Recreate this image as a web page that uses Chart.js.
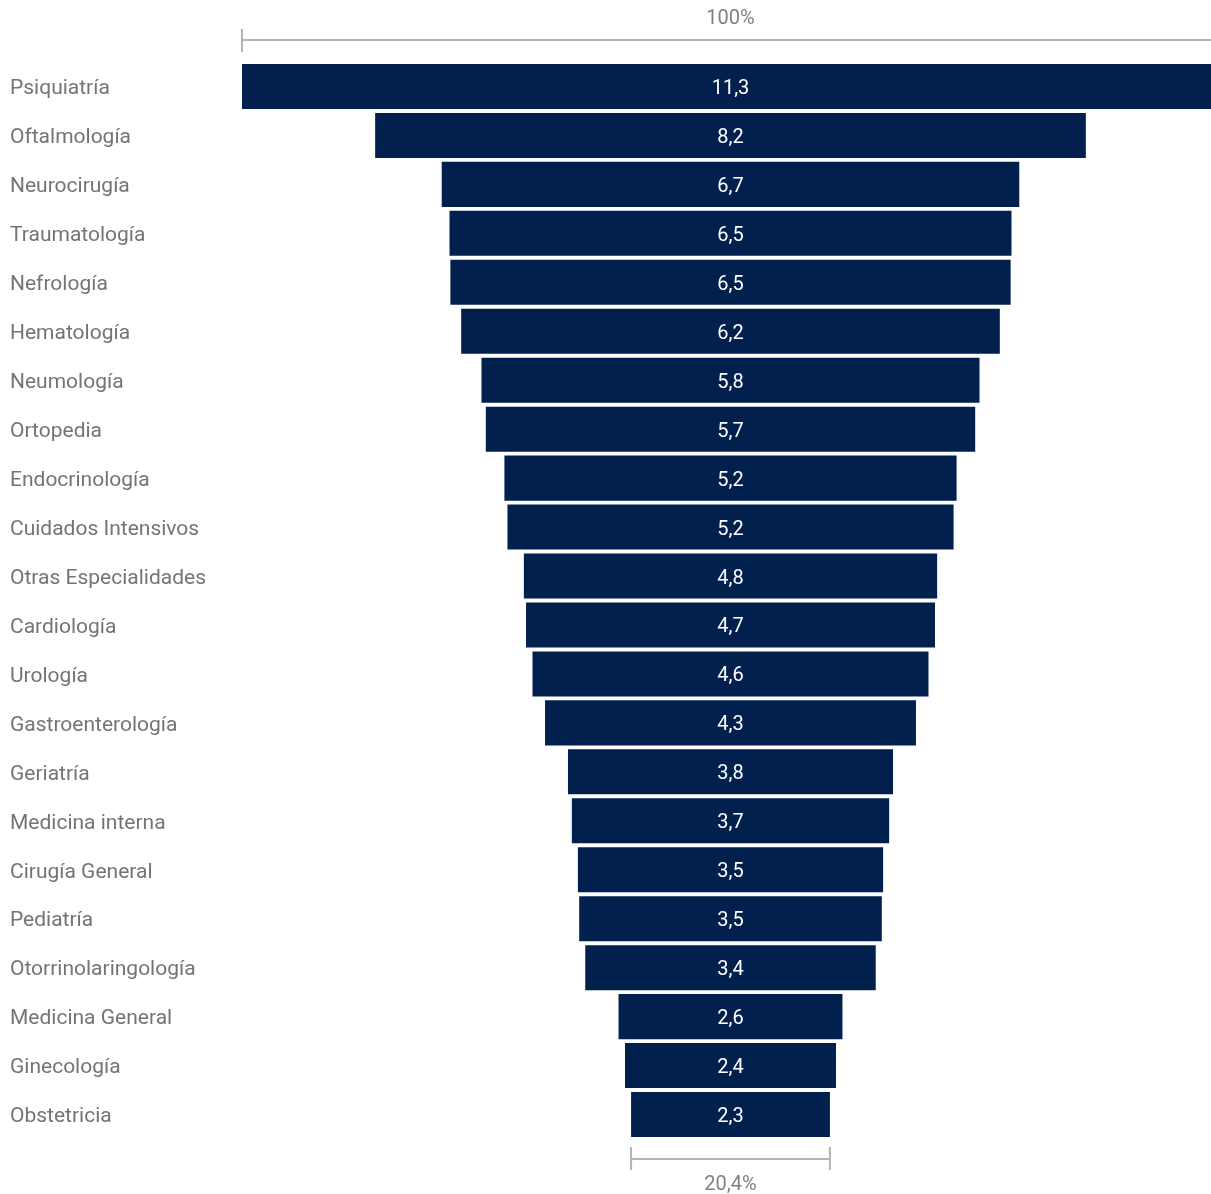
<!DOCTYPE html>
<html>
<head>
<meta charset="utf-8">
<script src="https://cdn.jsdelivr.net/npm/chart.js@4/dist/chart.umd.min.js"></script>
<style>
  html, body { margin: 0; padding: 0; background: #fff; overflow: hidden; }
</style>
</head>
<body>
<canvas id="mycanvas" width="1219" height="1194"></canvas>
<script>
// especialidades (categorias) y valores del embudo
var especialidades = ['Psiquiatría', 'Oftalmología', 'Neurocirugía', 'Traumatología', 'Nefrología',
  'Hematología', 'Neumología', 'Ortopedia', 'Endocrinología', 'Cuidados Intensivos',
  'Otras Especialidades', 'Cardiología', 'Urología', 'Gastroenterología', 'Geriatría',
  'Medicina interna', 'Cirugía General', 'Pediatría', 'Otorrinolaringología',
  'Medicina General', 'Ginecología', 'Obstetricia'];
var valores = [11.3, 8.22, 6.68, 6.50, 6.48, 6.23, 5.76, 5.66, 5.23, 5.16, 4.78, 4.73,
  4.58, 4.29, 3.76, 3.67, 3.53, 3.50, 3.36, 2.59, 2.44, 2.30];
var etiquetaTop = '100%';

var maxVal = Math.max.apply(null, valores);
var minVal = valores[valores.length - 1];
var fmt = function(v, d){ return v.toFixed(d).replace('.', ','); };

var navy = '#01204e';
var gris = '#747474';
var fuente = 'Roboto, "DejaVu Sans", sans-serif';

// etiquetas blancas dentro de cada barra + corchetes arriba y abajo
var extras = {
  id: 'extras',
  afterDatasetsDraw: function(chart){
    var ctx = chart.ctx;
    var meta = chart.getDatasetMeta(0);
    var x = chart.scales.x;
    ctx.save();
    ctx.font = '20px ' + fuente;
    ctx.fillStyle = '#ffffff';
    ctx.textAlign = 'center';
    ctx.textBaseline = 'middle';
    meta.data.forEach(function(bar, i){
      ctx.fillText(fmt(valores[i], 1), x.getPixelForValue(0), bar.y + 2.5);
    });

    ctx.strokeStyle = '#b4b4b4';
    ctx.lineWidth = 2;
    // corchete superior
    var l = x.getPixelForValue(-maxVal / 2), r = x.getPixelForValue(maxVal / 2);
    ctx.beginPath();
    ctx.moveTo(l, 40); ctx.lineTo(r, 40);
    ctx.moveTo(l, 29); ctx.lineTo(l, 52);
    ctx.moveTo(r, 29); ctx.lineTo(r, 52);
    ctx.stroke();
    // corchete inferior
    var l2 = x.getPixelForValue(-minVal / 2), r2 = x.getPixelForValue(minVal / 2);
    ctx.beginPath();
    ctx.moveTo(l2, 1159); ctx.lineTo(r2, 1159);
    ctx.moveTo(l2, 1147); ctx.lineTo(l2, 1170);
    ctx.moveTo(r2, 1147); ctx.lineTo(r2, 1170);
    ctx.stroke();

    ctx.fillStyle = '#808080';
    ctx.font = '20px ' + fuente;
    ctx.fillText(etiquetaTop, x.getPixelForValue(0), 19);
    ctx.fillText(fmt(minVal / maxVal * 100, 1) + '%', x.getPixelForValue(0), 1185);
    ctx.restore();
  }
};

var ctx = document.getElementById('mycanvas');
var funnel = new Chart(ctx, {
  type: 'bar',
  data: {
    labels: especialidades,
    datasets: [{
      data: valores.map(function(v){ return [-v / 2, v / 2]; }),
      backgroundColor: navy,
      borderWidth: 0,
      barPercentage: 0.92,
      categoryPercentage: 1
    }]
  },
  options: {
    indexAxis: 'y',
    responsive: false,
    animation: false,
    layout: { padding: { left: 10, right: 0, top: 62, bottom: 55 } },
    plugins: { legend: { display: false }, tooltip: { enabled: false } },
    scales: {
      x: {
        display: false,
        min: -maxVal / 2,
        max: maxVal / 2
      },
      y: {
        grid: { display: false },
        border: { display: false },
        afterFit: function(scale){ scale.width = 232; },
        ticks: {
          crossAlign: 'far',
          labelOffset: 2.5,
          color: gris,
          font: { family: fuente, size: 21 },
          autoSkip: false
        }
      }
    }
  },
  plugins: [extras]
});
</script>
</body>
</html>
